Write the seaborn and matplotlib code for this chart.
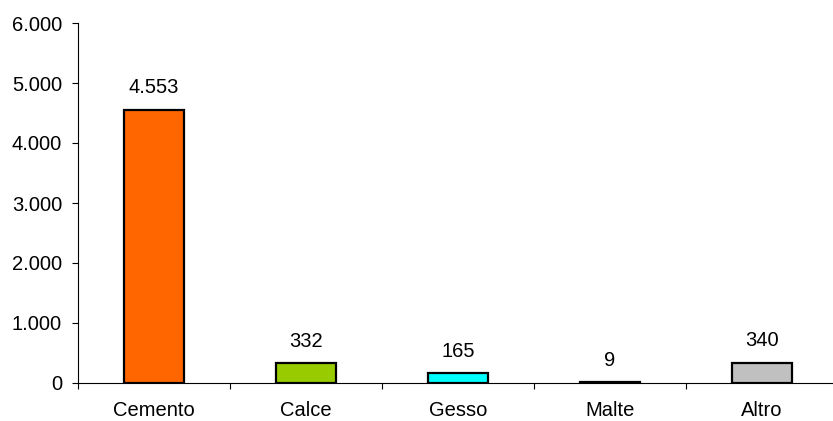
import matplotlib
matplotlib.use("Agg")
import matplotlib.pyplot as plt
import seaborn as sns
import pandas as pd
from matplotlib.ticker import FuncFormatter, FixedLocator

categories = ["Cemento", "Calce", "Gesso", "Malte", "Altro"]
values = [4553, 332, 165, 9, 340]
colors = ["#FF6600", "#99CC00", "#00FFFF", "#333399", "#C0C0C0"]

sns.set_style("white")
plt.rcParams["font.family"] = ["Liberation Sans", "DejaVu Sans"]


def it_num(v, pos=None):
    return f"{int(round(v)):,}".replace(",", ".")


df = pd.DataFrame({"cat": categories, "val": values})

fig = plt.figure(figsize=(8.33, 4.21), dpi=100)
ax = fig.add_axes([78 / 833, 38 / 421, 760 / 833, 360 / 421])
sns.barplot(data=df, x="cat", y="val", hue="cat", palette=colors, width=0.4,
            edgecolor="black", linewidth=1.6, legend=False, ax=ax, saturation=1)

ax.set_xlim(-0.5, 4.5)
ax.set_ylim(0, 6000)
ax.set_yticks(range(0, 6001, 1000))
ax.yaxis.set_major_formatter(FuncFormatter(it_num))
ax.set_xlabel("")
ax.set_ylabel("")

for i, v in enumerate(values):
    ax.annotate(it_num(v), (i, v), xytext=(0, 9), textcoords="offset points",
                ha="center", va="bottom", fontsize=14.5, color="black")

for s in ["top", "right"]:
    ax.spines[s].set_visible(False)
for s in ["left", "bottom"]:
    ax.spines[s].set_color("black")
    ax.spines[s].set_linewidth(0.8)

ax.xaxis.set_minor_locator(FixedLocator([i + 0.5 for i in range(-1, 5)]))
ax.tick_params(axis="x", which="major", length=0, pad=13, labelsize=14.5, colors="black")
ax.tick_params(axis="x", which="minor", bottom=True, length=4.5, width=0.8, color="black")
ax.tick_params(axis="y", which="major", left=True, length=4.5, width=0.8, pad=7,
               labelsize=14.5, colors="black")

fig.savefig("out.png", dpi=100)
